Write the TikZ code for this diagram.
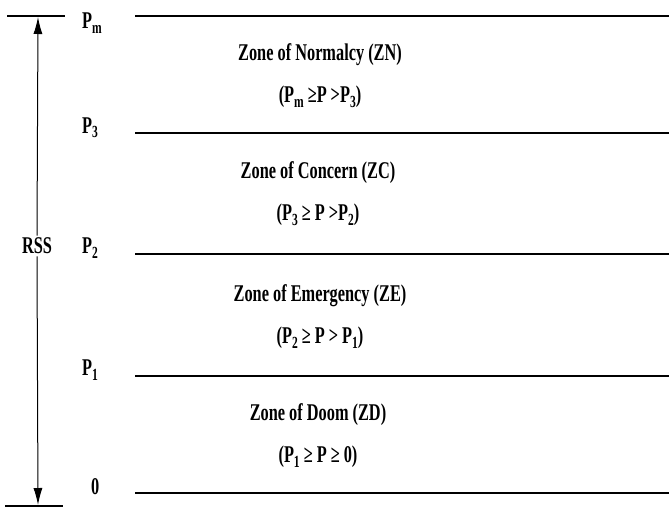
\documentclass[tikz,border=0pt]{standalone}
\usepackage{fontspec}
\setmainfont[FakeStretch=0.68]{Liberation Serif}
\usetikzlibrary{arrows.meta}
\newcommand{\lsub}[1]{\raisebox{-0.4ex}{\fontsize{17}{17}\selectfont #1}}
\begin{document}
\begin{tikzpicture}[x=1pt,y=-1pt,
  level/.style={line width=1.8pt},
  plabel/.style={anchor=west,inner sep=0pt,font=\fontsize{24}{24}\selectfont\bfseries},
  zone/.style={align=center,inner sep=0pt,font=\fontsize{24}{42}\selectfont\bfseries},
  rssarrow/.style={line width=1pt,-{Latex[length=17pt,width=9pt]}}]
\useasboundingbox (0,0) rectangle (669,511);
% level lines
\coordinate (tl) at (7,16);   \coordinate (tr) at (65,16);
\coordinate (bl) at (5,506);  \coordinate (br) at (63,506);
\draw[level] (tl) -- (tr);
\draw[level] (bl) -- (br);
\coordinate (lm1) at (135,16);  \coordinate (lm2) at (669,16);
\coordinate (l31) at (135,133); \coordinate (l32) at (669,133);
\coordinate (l21) at (135,254); \coordinate (l22) at (669,254);
\coordinate (l11) at (135,376); \coordinate (l12) at (669,376);
\coordinate (l01) at (135,493); \coordinate (l02) at (669,493);
\draw[level] (lm1) -- (lm2);
\draw[level] (l31) -- (l32);
\draw[level] (l21) -- (l22);
\draw[level] (l11) -- (l12);
\draw[level] (l01) -- (l02);
% labels
\node[plabel] (pm) at (82,23) {P\lsub{m}};
\node[plabel] (p3) at (82,128) {P\lsub{3}};
\node[plabel] (p2) at (82,248) {P\lsub{2}};
\node[plabel] (p1) at (82,370) {P\lsub{1}};
\node[plabel] (p0) at (91,487) {0};
% RSS arrow
\node[inner sep=2pt,font=\fontsize{24}{24}\selectfont\bfseries] (rss) at (37,246) {RSS};
\coordinate (atop) at (38,17);
\coordinate (abot) at (38,505);
\draw[rssarrow] (rss.north) -- (atop);
\draw[rssarrow] (rss.south) -- (abot);
% zones
\node[zone] (zn) at (320,76) {Zone of Normalcy (ZN)\\(P\lsub{m}\,≥P\,>P\lsub{3})};
\node[zone] (zc) at (318,194) {Zone of Concern (ZC)\\(P\lsub{3}\,≥ P\,>P\lsub{2})};
\node[zone] (ze) at (320,317) {Zone of Emergency (ZE)\\(P\lsub{2}\,≥ P\,> P\lsub{1})};
\node[zone] (zd) at (318,436) {Zone of Doom (ZD)\\(P\lsub{1}\,≥ P\,≥ 0)};
\end{tikzpicture}
\end{document}
